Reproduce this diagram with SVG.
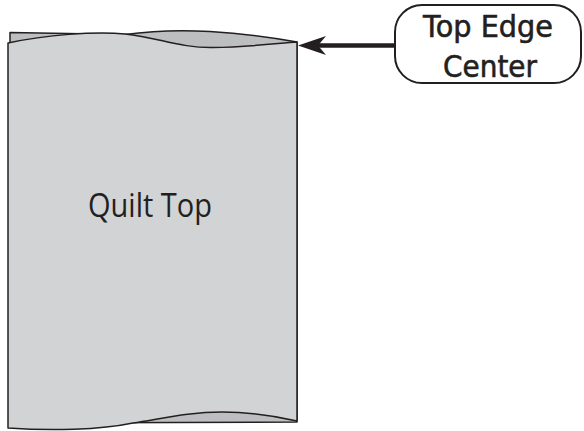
<svg xmlns="http://www.w3.org/2000/svg" width="584" height="431" viewBox="0 0 584 431">
<style>
.edge{stroke:#231f20;stroke-width:1.5;stroke-linejoin:round}
.back{fill:#bcbec0}
.front{fill:#d1d3d4}
.lbl{font-family:"DejaVu Sans",Verdana,sans-serif;font-size:30px;fill:#231f20;stroke:#231f20;stroke-width:0.6;text-anchor:middle}
.big{font-family:"Open Sans","DejaVu Sans",sans-serif;font-size:33px;fill:#231f20;text-anchor:middle}
</style>
<rect width="584" height="431" fill="#ffffff"/>
<g id="quilt-top">
<path class="back edge" d="M10,43 L10,32.5 L125,34.5 C150,31 185,30 210,31.5 C245,33.5 275,38 297,42 L297,422 L10,423 Z"/>
<path class="front edge" d="M8,43 C45,35 95,31 125,34 C160,38 180,48 213,47.5 C250,47 280,43 297,42 L297,421 C280,417 255,412 222,412 C190,412 165,418 133,423 C100,430 50,431 8,428 Z"/>
<text class="big" x="150" y="217" textLength="124" lengthAdjust="spacingAndGlyphs">Quilt Top</text>
</g>
<g id="callout">
<rect x="395" y="5" width="186" height="78" rx="27" ry="27" fill="#ffffff" stroke="#231f20" stroke-width="2"/>
<text class="lbl" x="488" y="37" textLength="130" lengthAdjust="spacingAndGlyphs">Top Edge</text>
<text class="lbl" x="490" y="77" textLength="94" lengthAdjust="spacingAndGlyphs">Center</text>
</g>
<g id="connectors">
<line x1="395" y1="45.5" x2="316" y2="45.5" stroke="#231f20" stroke-width="4.5"/>
<polygon points="298,45.5 326,36 318,45.5 326,55" fill="#231f20"/>
</g>
</svg>
